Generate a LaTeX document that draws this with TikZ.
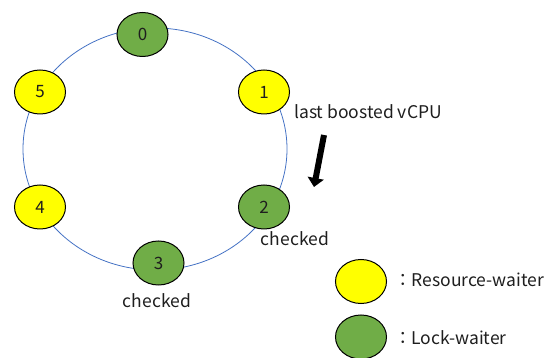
\documentclass[tikz,border=0pt]{standalone}
\usepackage{fontspec}
\setmainfont{Noto Sans CJK JP}
\usetikzlibrary{shapes.geometric, arrows.meta}

\definecolor{lockgreen}{HTML}{70AD47}
\definecolor{resyellow}{HTML}{FFFF00}
\definecolor{ringblue}{HTML}{4472C4}
\definecolor{inkgray}{HTML}{1E1E1E}

\begin{document}
\begin{tikzpicture}[x=1pt, y=-1pt,
  vcpu/.style={ellipse, draw=black, line width=1pt, minimum width=51pt,
    minimum height=44pt, inner sep=0pt, text=inkgray,
    font=\fontsize{17}{17}\selectfont},
  lockw/.style={vcpu, fill=lockgreen},
  resw/.style={vcpu, fill=resyellow},
  lbl/.style={inner sep=0pt, text=inkgray, font=\fontsize{17.5}{20}\selectfont}
]
  \useasboundingbox (0,0) rectangle (550,358);

  % scheduling ring
  \draw[ringblue, line width=0.8pt] (155,149) ellipse [x radius=132, y radius=121];

  % vCPUs on the ring
  \node[lockw] (v0) at (142.5,34.5) {0};
  \node[resw]  (v1) at (264,92)    {1};
  \node[lockw] (v2) at (264,207)   {2};
  \node[lockw] (v3) at (158.5,263) {3};
  \node[resw]  (v4) at (40,207)    {4};
  \node[resw]  (v5) at (40,92)     {5};

  % annotations
  \node[lbl, anchor=base west] (last) at (294,118.5) {last boosted vCPU};
  \node[lbl, anchor=base] (chk2) at (295,245.5) {checked};
  \node[lbl, anchor=base] (chk3) at (157,308) {checked};

  % direction of the next search
  \coordinate (arrA) at (324,135);
  \coordinate (arrB) at (314,187);
  \draw[line width=6pt, -{Triangle[width=16pt, length=9pt]}] (arrA) -- (arrB);

  % legend
  \node[resw]  (legR) at (361,281.5) {};
  \node[lockw] (legL) at (361,337)   {};
  \node[lbl, anchor=base west] (legRt) at (394,287) {：Resource-waiter};
  \node[lbl, anchor=base west] (legLt) at (394,345) {：Lock-waiter};
\end{tikzpicture}
\end{document}
